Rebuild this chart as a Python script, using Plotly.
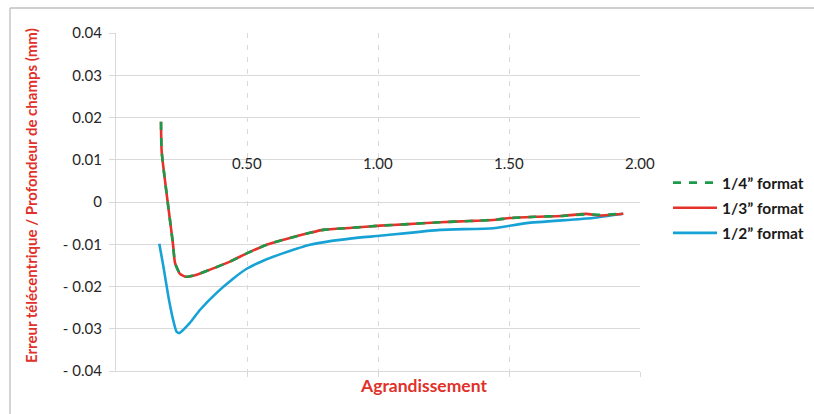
import plotly.graph_objects as go

# ---- data ----
x_quart = [0.1718, 0.1744, 0.2176, 0.2252, 0.2443, 0.2672, 0.308, 0.359, 0.435, 0.501, 0.575, 0.664, 0.740, 0.790, 0.900, 1.008, 1.100, 1.237, 1.350, 1.450, 1.503, 1.600, 1.700, 1.795, 1.846, 1.936]
y_quart = [0.0190, 0.0119, -0.0100, -0.0144, -0.0170, -0.0177, -0.0172, -0.0160, -0.0141, -0.0121, -0.0101, -0.0085, -0.0073, -0.0066, -0.0061, -0.0056, -0.0053, -0.0048, -0.0045, -0.0042, -0.0038, -0.0035, -0.0033, -0.0029, -0.0030, -0.0028]

x_tiers = [0.1718, 0.1744, 0.2176, 0.2252, 0.2443, 0.2672, 0.308, 0.359, 0.435, 0.501, 0.575, 0.664, 0.740, 0.790, 0.900, 1.008, 1.100, 1.237, 1.350, 1.450, 1.503, 1.600, 1.700, 1.795, 1.846, 1.936]
y_tiers = [0.0190, 0.0119, -0.0100, -0.0144, -0.0170, -0.0177, -0.0172, -0.0160, -0.0141, -0.0121, -0.0101, -0.0085, -0.0073, -0.0066, -0.0061, -0.0056, -0.0053, -0.0048, -0.0045, -0.0042, -0.0038, -0.0035, -0.0033, -0.0028, -0.0032, -0.0028]

x_demi = [0.1653, 0.181, 0.200, 0.218, 0.231, 0.2416, 0.282, 0.321, 0.384, 0.448, 0.499, 0.562, 0.639, 0.740, 0.900, 1.008, 1.237, 1.440, 1.567, 1.820, 1.936]
y_demi = [-0.0099, -0.0153, -0.0224, -0.0279, -0.0307, -0.0310, -0.0286, -0.0255, -0.0215, -0.0181, -0.0158, -0.0139, -0.0121, -0.0101, -0.0086, -0.0080, -0.0066, -0.0062, -0.0050, -0.0038, -0.0028]

y_tickvals = [-0.04, -0.03, -0.02, -0.01, 0, 0.01, 0.02, 0.03, 0.04]
y_ticktext = ["- 0.04", "- 0.03", "- 0.02", "- 0.01", "0", "0.01", "0.02", "0.03", "0.04"]
x_tickvals = [0.5, 1.0, 1.5, 2.0]
x_ticktext = ["0.50", "1.00", "1.50", "2.00"]

GREEN = "#1a9b4b"
RED = "#e5322a"
BLUE = "#17a2d6"
TITLE_RED = "#e0312a"
GRID = "#d9d9d9"
FONT = "Lato"

L, T, R, B = 116, 33, 640, 371
PW, PH = R - L, B - T

def px_x(p):
    return (p - L) / PW

def px_y(p):
    return (B - p) / PH

fig = go.Figure()
fig.add_trace(go.Scatter(x=x_demi, y=y_demi, mode="lines", name="1/2\u201d format", legendgroup="c",
                         line=dict(color=BLUE, width=2.6, shape="spline", smoothing=0.5), legendrank=3))
fig.add_trace(go.Scatter(x=x_tiers, y=y_tiers, mode="lines", name="1/3\u201d format", legendgroup="b",
                         line=dict(color=RED, width=2.6, shape="spline", smoothing=0.5), legendrank=2))
fig.add_trace(go.Scatter(x=x_quart, y=y_quart, mode="lines", name="1/4\u201d format", legendgroup="a",
                         line=dict(color=GREEN, width=2.6, shape="spline", smoothing=0.5, dash="8px,8px"), legendrank=1))

annotations = []
for v, t in zip(x_tickvals, x_ticktext):
    annotations.append(dict(x=v, y=0, xref="x", yref="y", text=t, showarrow=False,
                            yanchor="middle", xanchor="center", yshift=39,
                            font=dict(family=FONT, size=15, color="#262626")))
annotations.append(dict(x=px_x(31), y=px_y(196), xref="paper", yref="paper",
                        xanchor="center", yanchor="middle",
                        text="Erreur télécentrique / Profondeur de champs (mm)",
                        showarrow=False, textangle=-90,
                        font=dict(family=FONT, size=15, color=TITLE_RED, weight="bold")))
annotations.append(dict(x=px_x(423), y=px_y(386), xref="paper", yref="paper",
                        xanchor="center", yanchor="middle",
                        text="Agrandissement", showarrow=False,
                        font=dict(family=FONT, size=17.5, color=TITLE_RED, weight="bold")))

fig.update_layout(
    width=814, height=414,
    margin=dict(l=L, r=814 - R, t=T, b=414 - B, autoexpand=False),
    paper_bgcolor="white", plot_bgcolor="white",
    font=dict(family=FONT, size=13, color="#262626"),
    xaxis=dict(range=[0, 2.0], tickvals=x_tickvals, showticklabels=False,
               showgrid=True, gridcolor=GRID, griddash="5px,7px", gridwidth=1.3,
               zeroline=False, showline=True, linecolor=GRID, linewidth=1.3,
               ticks="outside", ticklen=5, tickcolor=GRID),
    yaxis=dict(range=[-0.04, 0.04], tickvals=y_tickvals, ticktext=y_ticktext,
               showgrid=True, gridcolor=GRID, gridwidth=1.3, zeroline=False,
               showline=True, linecolor=GRID, linewidth=1.3,
               ticks="outside", ticklen=6, tickcolor=GRID, ticklabelstandoff=4,
               tickfont=dict(family=FONT, size=15, color="#262626")),
    legend=dict(x=px_x(668), y=px_y(166), xanchor="left", yanchor="top",
                font=dict(family=FONT, size=15.5, color="#1a1a1a", weight="bold"),
                itemwidth=44, bgcolor="rgba(0,0,0,0)", tracegroupgap=2),
    annotations=annotations,
    shapes=[
        dict(type="line", xref="paper", yref="paper",
             x0=px_x(10), x1=px_x(814), y0=px_y(8), y1=px_y(8),
             line=dict(color="#bfbfbf", width=1.3), layer="below"),
        dict(type="line", xref="paper", yref="paper",
             x0=px_x(10), x1=px_x(10), y0=px_y(8), y1=px_y(414),
             line=dict(color="#bfbfbf", width=1.3), layer="below"),
    ],
    showlegend=True,
)

fig.write_html("out.html", config={"displayModeBar": False},
               post_script="document.body.style.margin='0';document.body.style.overflow='hidden';")
